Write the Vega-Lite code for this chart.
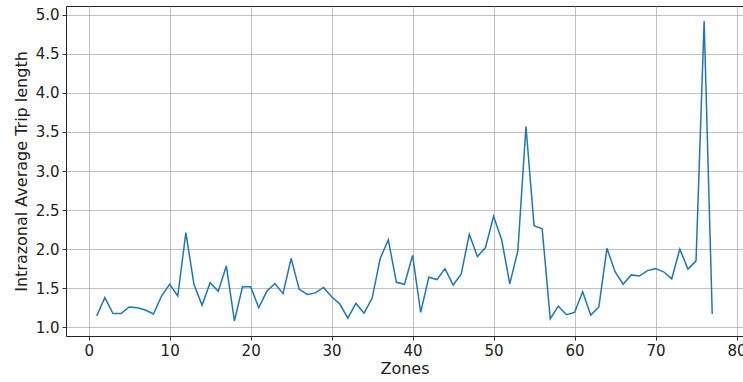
{
  "$schema": "https://vega.github.io/schema/vega-lite/v6.json",
  "width": 677,
  "height": 330,
  "autosize": "none",
  "padding": {"left": 66, "top": 6, "right": 0, "bottom": 46},
  "background": "white",
  "config": {
    "font": "DejaVu Sans",
    "view": {"stroke": "#222", "strokeWidth": 1},
    "axis": {
      "domain": false,
      "grid": true,
      "gridColor": "#b0b0b0",
      "gridWidth": 0.8,
      "tickColor": "#000",
      "tickSize": 4,
      "tickWidth": 0.8,
      "labelFontSize": 15,
      "labelColor": "#222",
      "labelPadding": 3,
      "titleFontSize": 16,
      "titleFontWeight": "normal",
      "titleColor": "#222"
    }
  },
  "data": {
    "values": [
      {"zone": 1, "v": 1.145}, {"zone": 2, "v": 1.38}, {"zone": 3, "v": 1.176}, {"zone": 4, "v": 1.176},
      {"zone": 5, "v": 1.26}, {"zone": 6, "v": 1.25}, {"zone": 7, "v": 1.22}, {"zone": 8, "v": 1.17},
      {"zone": 9, "v": 1.40}, {"zone": 10, "v": 1.55}, {"zone": 11, "v": 1.40}, {"zone": 12, "v": 2.21},
      {"zone": 13, "v": 1.55}, {"zone": 14, "v": 1.28}, {"zone": 15, "v": 1.57}, {"zone": 16, "v": 1.46},
      {"zone": 17, "v": 1.785}, {"zone": 18, "v": 1.08}, {"zone": 19, "v": 1.52}, {"zone": 20, "v": 1.52},
      {"zone": 21, "v": 1.25}, {"zone": 22, "v": 1.46}, {"zone": 23, "v": 1.56}, {"zone": 24, "v": 1.43},
      {"zone": 25, "v": 1.88}, {"zone": 26, "v": 1.485}, {"zone": 27, "v": 1.42}, {"zone": 28, "v": 1.44},
      {"zone": 29, "v": 1.51}, {"zone": 30, "v": 1.39}, {"zone": 31, "v": 1.30}, {"zone": 32, "v": 1.116},
      {"zone": 33, "v": 1.305}, {"zone": 34, "v": 1.18}, {"zone": 35, "v": 1.37}, {"zone": 36, "v": 1.88},
      {"zone": 37, "v": 2.12}, {"zone": 38, "v": 1.575}, {"zone": 39, "v": 1.55}, {"zone": 40, "v": 1.92},
      {"zone": 41, "v": 1.19}, {"zone": 42, "v": 1.64}, {"zone": 43, "v": 1.61}, {"zone": 44, "v": 1.75},
      {"zone": 45, "v": 1.54}, {"zone": 46, "v": 1.68}, {"zone": 47, "v": 2.19}, {"zone": 48, "v": 1.905},
      {"zone": 49, "v": 2.02}, {"zone": 50, "v": 2.42}, {"zone": 51, "v": 2.12}, {"zone": 52, "v": 1.555},
      {"zone": 53, "v": 1.98}, {"zone": 54, "v": 3.57}, {"zone": 55, "v": 2.30}, {"zone": 56, "v": 2.26},
      {"zone": 57, "v": 1.11}, {"zone": 58, "v": 1.27}, {"zone": 59, "v": 1.16}, {"zone": 60, "v": 1.19},
      {"zone": 61, "v": 1.455}, {"zone": 62, "v": 1.155}, {"zone": 63, "v": 1.26}, {"zone": 64, "v": 2.01},
      {"zone": 65, "v": 1.71}, {"zone": 66, "v": 1.55}, {"zone": 67, "v": 1.67}, {"zone": 68, "v": 1.655},
      {"zone": 69, "v": 1.725}, {"zone": 70, "v": 1.75}, {"zone": 71, "v": 1.71}, {"zone": 72, "v": 1.62},
      {"zone": 73, "v": 2.00}, {"zone": 74, "v": 1.745}, {"zone": 75, "v": 1.85}, {"zone": 76, "v": 4.92},
      {"zone": 77, "v": 1.17}
    ]
  },
  "mark": {"type": "line", "color": "#1f77b4", "strokeWidth": 1.5},
  "encoding": {
    "x": {
      "field": "zone", "type": "quantitative", "title": "Zones",
      "scale": {"domain": [-2.8, 80.8], "nice": false, "zero": false},
      "axis": {"values": [0, 10, 20, 30, 40, 50, 60, 70, 80], "format": "d", "titlePadding": 2}
    },
    "y": {
      "field": "v", "type": "quantitative", "title": "Intrazonal Average Trip length",
      "scale": {"domain": [0.888, 5.112], "nice": false, "zero": false},
      "axis": {"values": [1.0, 1.5, 2.0, 2.5, 3.0, 3.5, 4.0, 4.5, 5.0], "format": ".1f", "titlePadding": 6}
    }
  }
}
